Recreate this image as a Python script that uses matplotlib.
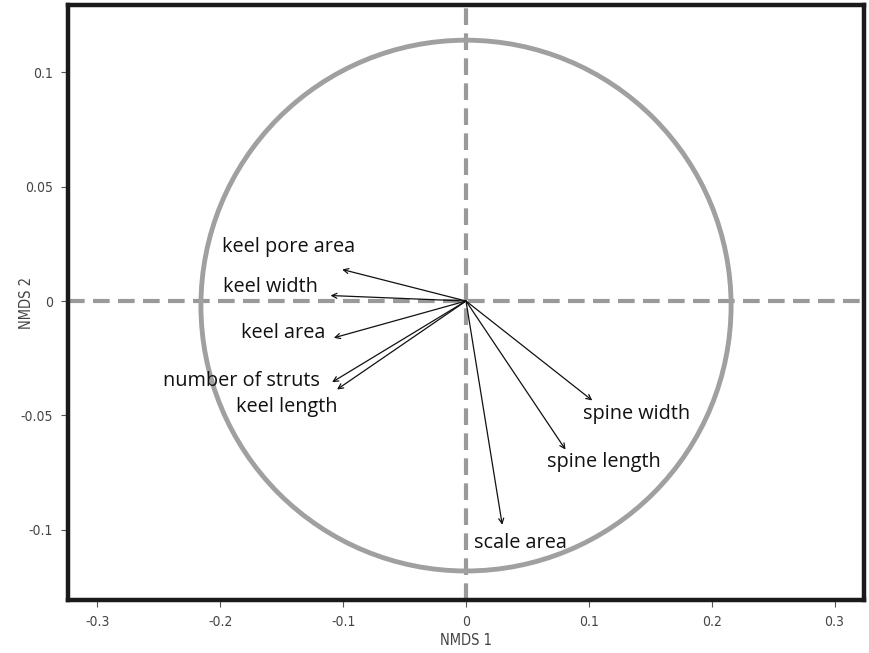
import matplotlib
matplotlib.use("Agg")
import matplotlib.pyplot as plt
from matplotlib.patches import Ellipse

# ---- data ----
variables = ["keel pore area", "keel width", "keel area", "number of struts",
             "keel length", "spine width", "spine length", "scale area"]
nmds1 = [-0.1008, -0.1103, -0.1076, -0.1090, -0.1050, 0.1028, 0.0810, 0.0295]
nmds2 = [0.0138, 0.0024, -0.0161, -0.0355, -0.0387, -0.0435, -0.0650, -0.0979]
xticks = [-0.3, -0.2, -0.1, 0, 0.1, 0.2, 0.3]
xticklabels = ["-0.3", "-0.2", "-0.1", "0", "0.1", "0.2", "0.3"]
yticks = [-0.1, -0.05, 0, 0.05, 0.1]
yticklabels = ["-0.1", "-0.05", "0", "0.05", "0.1"]
circle_rx, circle_ry = 0.2158, 0.1161
circle_cy = -0.002

# label placement (pixel offsets from arrow tip, horizontal alignment)
label_style = {
    "keel pore area": (-120, 22, "left"),
    "keel width": (-108, 9, "left"),
    "keel area": (-8, 5, "right"),
    "number of struts": (-12, 1, "right"),
    "keel length": (-101, -18, "left"),
    "spine width": (-9, -14, "left"),
    "spine length": (-18, -12, "left"),
    "scale area": (-28, -18, "left"),
}

DPI = 100
fig = plt.figure(figsize=(8.7, 6.53), dpi=DPI)
ax = fig.add_axes([68/870, 53/653, (864-68)/870, (600-5)/653])
ax.set_xlim(-0.324, 0.324)
ax.set_ylim(-0.1308, 0.1295)

grey = "#9a9a9a"
ax.axhline(0, color=grey, lw=3, dashes=(4, 2), zorder=1)
ax.axvline(0, color=grey, lw=3, dashes=(4, 2), zorder=1)
ax.add_patch(Ellipse((0, circle_cy), 2*circle_rx, 2*circle_ry, fill=False,
                     ec="#a0a0a0", lw=3.5, zorder=2))

tfont = ["Open Sans", "DejaVu Sans"]
pt = 72 / DPI
for name, x, y in zip(variables, nmds1, nmds2):
    ax.annotate("", xy=(x, y), xytext=(0, 0),
                arrowprops=dict(arrowstyle="->", color="#111111", lw=0.9,
                                shrinkA=0, shrinkB=0, mutation_scale=9),
                zorder=3)
    dx, dy, ha = label_style[name]
    ax.annotate(name, xy=(x, y), xytext=(dx*pt, dy*pt), textcoords="offset points",
                ha=ha, va="center", fontsize=14.3, family=tfont, color="#111111",
                zorder=4)

for s in ax.spines.values():
    s.set_linewidth(3.2)
    s.set_color("#1a1a1a")

nfont = "DejaVu Sans"
ax.set_xticks(xticks)
ax.set_xticklabels(xticklabels, family=nfont, stretch="condensed", fontsize=10, color="#444444")
ax.set_yticks(yticks)
ax.set_yticklabels(yticklabels, family=nfont, stretch="condensed", fontsize=10, color="#444444")
ax.tick_params(direction="out", length=5, width=0.8, color="#555555", pad=6)
ax.set_xlabel("NMDS 1", family=nfont, stretch="condensed", fontsize=10.5, color="#444444", labelpad=3)
ax.set_ylabel("NMDS 2", family=nfont, stretch="condensed", fontsize=10.5, color="#444444", labelpad=3)
ax.yaxis.set_label_coords(-34/796, 0.5)

fig.savefig("out.png", dpi=DPI)
